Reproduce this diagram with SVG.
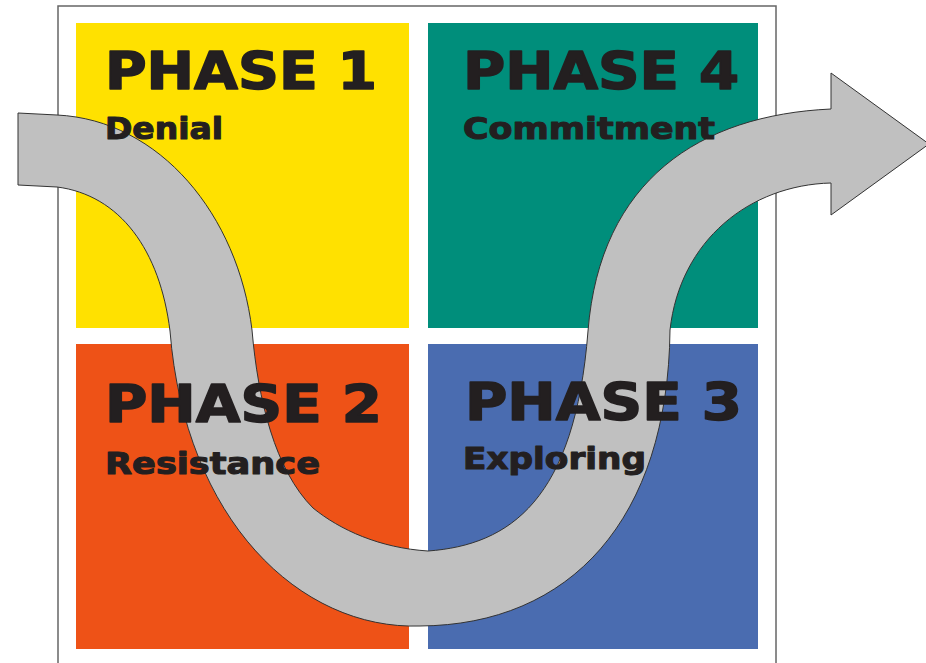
<svg xmlns="http://www.w3.org/2000/svg" width="926" height="663" viewBox="0 0 926 663">
  <style>
    .title { font-family: "DejaVu Sans", "Liberation Sans", sans-serif; font-weight: bold; font-size: 51px; fill: #231F20; stroke: #231F20; stroke-width: 1.6; stroke-linejoin: round; }
    .sub { font-family: "DejaVu Sans", "Liberation Sans", sans-serif; font-weight: bold; font-size: 30px; fill: #231F20; stroke: #231F20; stroke-width: 1.1; stroke-linejoin: round; }
    .arrow { fill: #C0C0C0; stroke: #333333; stroke-width: 1; stroke-linejoin: miter; }
  </style>
  <rect x="0" y="0" width="926" height="663" fill="#FFFFFF"/>
  <rect id="frame" x="58" y="6" width="718" height="700" fill="#FFFFFF" stroke="#666666" stroke-width="1.5"/>

  <g id="phase1-box"><rect x="76" y="23" width="333" height="305" fill="#FFE100"/></g>
  <g id="phase4-box"><rect x="428" y="23" width="330" height="305" fill="#008E7B"/></g>
  <g id="phase2-box"><rect x="76" y="344" width="333" height="305" fill="#EE5217"/></g>
  <g id="phase3-box"><rect x="428" y="344" width="330" height="305" fill="#4A6CB0"/></g>

  <g id="connectors">
    <path class="arrow" d="M18,113 L57,115 C160,120 238,215 252,330 C258,400 275,470 313,508 C340,530 380,548 428,551 C510,545 575,500 588,331 C600,180 700,115 831,109 L831,73 L929,144 L831,215 L831,183 C750,185 680,240 670,330 C668,520 570,625 420,626 C300,630 185,520 170,331 C160,250 120,195 57,187 L18,185 Z"/>
  </g>

  <g id="phase1-label">
    <text class="title" x="105" y="89" textLength="272" lengthAdjust="spacingAndGlyphs">PHASE 1</text>
    <text class="sub" x="105" y="139" textLength="118" lengthAdjust="spacingAndGlyphs">Denial</text>
  </g>
  <g id="phase4-label">
    <text class="title" x="463" y="89" textLength="276" lengthAdjust="spacingAndGlyphs">PHASE 4</text>
    <text class="sub" x="463" y="139" textLength="252" lengthAdjust="spacingAndGlyphs">Commitment</text>
  </g>
  <g id="phase2-label">
    <text class="title" x="105" y="422" textLength="277" lengthAdjust="spacingAndGlyphs">PHASE 2</text>
    <text class="sub" x="105" y="474" textLength="215" lengthAdjust="spacingAndGlyphs">Resistance</text>
  </g>
  <g id="phase3-label">
    <text class="title" x="465" y="420" textLength="277" lengthAdjust="spacingAndGlyphs">PHASE 3</text>
    <text class="sub" x="463" y="469" textLength="183" lengthAdjust="spacingAndGlyphs">Exploring</text>
  </g>
</svg>
